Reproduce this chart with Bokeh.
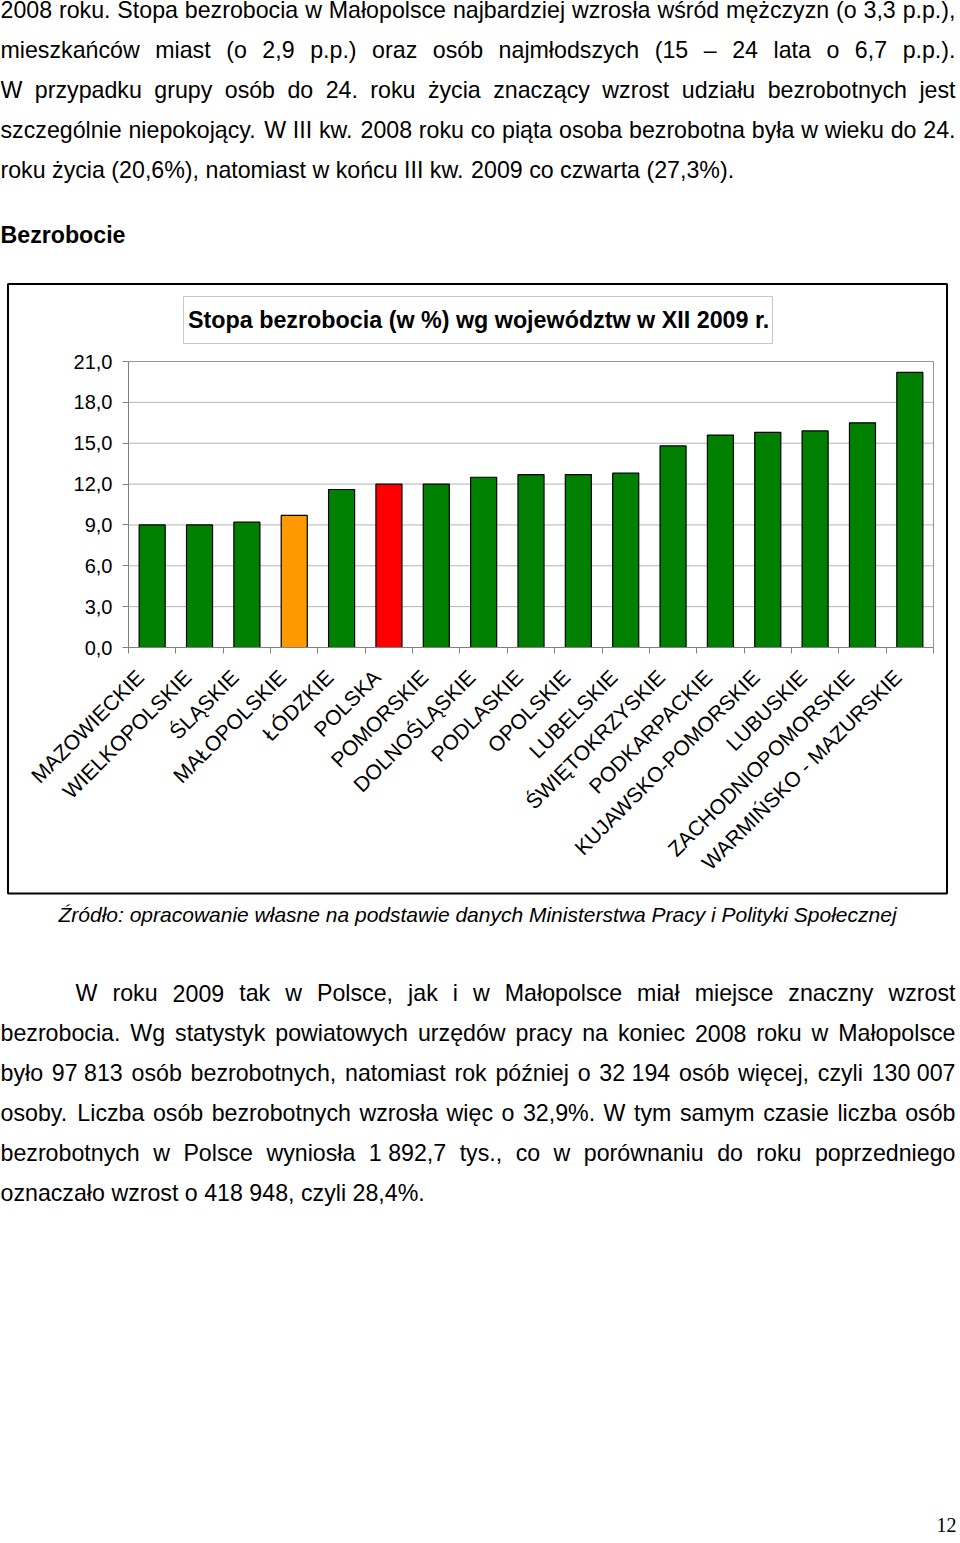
import math
from bokeh.plotting import figure
from bokeh.models import (Range1d, LinearAxis, FixedTicker, CustomJSTickFormatter,
                          ColumnDataSource)
from bokeh.core.properties import value
from bokeh.embed import file_html
from bokeh.resources import INLINE

# ---------------- data ----------------
categories = ["MAZOWIECKIE", "WIELKOPOLSKIE", "ŚLĄSKIE", "MAŁOPOLSKIE", "ŁÓDZKIE",
              "POLSKA", "POMORSKIE", "DOLNOŚLĄSKIE", "PODLASKIE", "OPOLSKIE",
              "LUBELSKIE", "ŚWIĘTOKRZYSKIE", "PODKARPACKIE", "KUJAWSKO-POMORSKIE",
              "LUBUSKIE", "ZACHODNIOPOMORSKIE", "WARMIŃSKO - MAZURSKIE"]
rates = [9.0, 9.0, 9.2, 9.7, 11.6, 12.0, 12.0, 12.5, 12.7, 12.7, 12.8,
         14.8, 15.6, 15.8, 15.9, 16.5, 20.2]
highlight = {"MAŁOPOLSKIE": "#FF9900", "POLSKA": "#FF0000"}
y_ticks = [0, 3, 6, 9, 12, 15, 18, 21]

chart_title = "Stopa bezrobocia (w %) wg województw w XII 2009 r."
section_title = "Bezrobocie"
source_note = "Źródło: opracowanie własne na podstawie danych Ministerstwa Pracy i Polityki Społecznej"
page_number = "12"

top_lines = [
    "2008 roku. Stopa bezrobocia w Małopolsce najbardziej wzrosła wśród mężczyzn (o 3,3 p.p.),",
    "mieszkańców miast (o 2,9 p.p.) oraz osób najmłodszych (15 – 24 lata o 6,7 p.p.).",
    "W przypadku grupy osób do 24. roku życia znaczący wzrost udziału bezrobotnych jest",
    "szczególnie niepokojący. W III kw. 2008 roku co piąta osoba bezrobotna była w wieku do 24.",
    "roku życia (20,6%), natomiast w końcu III kw. 2009 co czwarta (27,3%).",
]
bottom_lines = [
    "W roku 2009 tak w Polsce, jak i w Małopolsce miał miejsce znaczny wzrost",
    "bezrobocia. Wg statystyk powiatowych urzędów pracy na koniec 2008 roku w Małopolsce",
    "było 97\u00a0813 osób bezrobotnych, natomiast rok później o 32\u00a0194 osób więcej, czyli 130\u00a0007",
    "osoby. Liczba osób bezrobotnych wzrosła więc o 32,9%. W tym samym czasie liczba osób",
    "bezrobotnych w Polsce wyniosła 1\u00a0892,7 tys., co w porównaniu do roku poprzedniego",
    "oznaczało wzrost o 418\u00a0948, czyli 28,4%.",
]

# ---------------- page geometry ----------------
W, H = 960, 1543
PLOT_L, PLOT_R = 128, 933      # plot area, page px
PLOT_T, PLOT_B = 361, 647
N = len(categories)
YMAX = y_ticks[-1]
FONT = "Liberation Sans"
FS = 23.2


def bl(y, size):
    """baseline correction for the svg text glyph (renders ~0.345 em low)"""
    return y - 0.345 * size


# Arial / Liberation Sans advance widths (1/1000 em)
AW = {' ': 278, '\u00a0': 278, '%': 889, '(': 333, ')': 333, ',': 278, '-': 333, '.': 278,
      ':': 278, '–': 556}
for ch in "0123456789":
    AW[ch] = 556
AW.update(dict(A=667, B=667, C=722, D=722, E=667, F=611, G=778, H=722, I=278, J=500, K=667,
               L=556, M=833, N=722, O=778, P=667, Q=778, R=722, S=667, T=611, U=722, V=667,
               W=944, X=667, Y=667, Z=611))
AW.update(dict(a=556, b=556, c=500, d=556, e=556, f=278, g=556, h=556, i=222, j=222, k=500,
               l=222, m=833, n=556, o=556, p=556, q=556, r=333, s=500, t=278, u=556, v=500,
               w=722, x=500, y=500, z=500))
AW.update({'ą': 556, 'ę': 556, 'ó': 556, 'ł': 222, 'ś': 500, 'ż': 500, 'ź': 500, 'ń': 556,
           'ć': 500, 'Ł': 556, 'Ś': 667, 'Ż': 611, 'Ź': 611, 'Ó': 778})


def tw(s, size):
    return sum(AW.get(c, 556) for c in s) * size / 1000.0


body = dict(x=[], y=[], text=[])


def set_paragraph(lines, first_left, left, right, base, step, size):
    for k, line in enumerate(lines):
        words = line.split(" ")
        widths = [tw(w, size) for w in words]
        x0 = first_left if k == 0 else left
        last = k == len(lines) - 1
        if not last and len(words) > 1:
            gap = (right - x0 - sum(widths)) / (len(words) - 1)
        else:
            gap = tw(" ", size)
        x = x0
        for w, wd in zip(words, widths):
            body["x"].append(x)
            body["y"].append(bl(base + k * step, size))
            body["text"].append(w.replace("\u00a0", " "))
            x += wd + gap


set_paragraph(top_lines, 0, 0, 955, 17.5, 40, FS)
set_paragraph(bottom_lines, 75, 0, 955, 1001, 40, FS)

# ---------------- figure ----------------
p = figure(width=W, height=H, x_range=Range1d(0, W), y_range=Range1d(H, 0),
           output_backend="svg", toolbar_location=None, min_border=0,
           x_axis_location=None, y_axis_location=None, outline_line_color=None,
           background_fill_color="white", border_fill_color="white")
p.xgrid.visible = False
p.ygrid.visible = False
p.styles = {"position": "absolute", "left": "0px", "top": "0px"}

cat_scale = (PLOT_R - PLOT_L) / N
val_scale = (PLOT_B - PLOT_T) / YMAX
p.extra_x_ranges = {"cat": Range1d(-PLOT_L / cat_scale, (W - PLOT_L) / cat_scale)}
p.extra_y_ranges = {"val": Range1d(-(H - PLOT_B) / val_scale, PLOT_B / val_scale)}

# body text
p.text(x="x", y="y", text="text", source=ColumnDataSource(body),
       text_font=value(FONT), text_font_size=value(f"{FS}px"), text_color="black",
       text_align="left", text_baseline="alphabetic")

p.text(x=[0], y=[bl(243, FS)], text=[section_title], text_font=value(FONT),
       text_font_size=value(f"{FS}px"), text_font_style="bold", text_color="black",
       text_baseline="alphabetic")

# chart frame and title box
p.quad(left=[7.5], right=[946.5], top=[283.5], bottom=[893], fill_color=None,
       line_color="black", line_width=2)
p.quad(left=[183], right=[772], top=[296], bottom=[343], fill_color="white",
       line_color="#C8C8C8", line_width=1)
p.text(x=[187.5], y=[bl(328, 23.3)], text=[chart_title], text_font=value(FONT),
       text_font_size=value("23.3px"), text_font_style="bold", text_color="black",
       text_baseline="alphabetic")

# gridlines and plot-area border (in chart coordinates)
grid_vals = y_ticks[1:-1]
p.segment(x0=[0] * len(grid_vals), x1=[N] * len(grid_vals), y0=grid_vals, y1=grid_vals,
          line_color="#B4B4B4", line_width=1, x_range_name="cat", y_range_name="val")
p.segment(x0=[0, N], y0=[YMAX, 0], x1=[N, N], y1=[YMAX, YMAX],
          line_color="#969696", line_width=1, x_range_name="cat", y_range_name="val")

# bars
positions = [i + 0.5 for i in range(N)]
colors = [highlight.get(c, "#008000") for c in categories]
p.vbar(x=positions, top=rates, bottom=0, width=0.55, fill_color=colors,
       line_color="black", line_width=1.2, x_range_name="cat", y_range_name="val")

# axes
yax = LinearAxis(x_range_name="cat", y_range_name="val", fixed_location=0, bounds=(0, YMAX),
                 ticker=FixedTicker(ticks=y_ticks),
                 formatter=CustomJSTickFormatter(code="return tick.toFixed(1).replace('.', ',')"),
                 axis_line_color="#808080", major_tick_line_color="#808080",
                 major_tick_out=6, major_tick_in=0, minor_tick_line_color=None,
                 major_label_standoff=10, major_label_text_font=FONT,
                 major_label_text_font_size="20px", major_label_text_color="black")
p.add_layout(yax, "left")

xax = LinearAxis(x_range_name="cat", y_range_name="val", fixed_location=0, bounds=(0, N),
                 ticker=FixedTicker(ticks=list(range(N + 1))),
                 formatter=CustomJSTickFormatter(code="return ''"),
                 axis_line_color="#808080", major_tick_line_color="#808080",
                 major_tick_out=6, major_tick_in=0, minor_tick_line_color=None)
p.add_layout(xax, "below")

# category labels: anchored a little left of each category centre (Excel style)
LABEL_SHIFT = 12 / cat_scale
label_ticks = [x - LABEL_SHIFT for x in positions]
lab = LinearAxis(x_range_name="cat", y_range_name="val", fixed_location=0, bounds=(0, N),
                 ticker=FixedTicker(ticks=label_ticks),
                 formatter=CustomJSTickFormatter(args=dict(names=categories),
                                                 code="return names[Math.round(tick)]"),
                 axis_line_color=None, major_tick_line_color=None, major_tick_out=0,
                 major_tick_in=0, minor_tick_line_color=None,
                 major_label_orientation=math.pi / 4, major_label_standoff=26,
                 major_label_text_font=FONT, major_label_text_font_size="21px",
                 major_label_text_color="black")
p.add_layout(lab, "below")

# source note and page number
p.text(x=[58], y=[bl(921.5, 21)], text=[source_note], text_font=value(FONT),
       text_font_size=value("21px"), text_font_style="italic", text_color="black",
       text_baseline="alphabetic")
p.text(x=[956], y=[bl(1531, 20)], text=[page_number], text_font=value("Liberation Serif"),
       text_font_size=value("20px"), text_color="black", text_align="right",
       text_baseline="alphabetic")

open("out.html", "w").write(file_html(p, INLINE))
